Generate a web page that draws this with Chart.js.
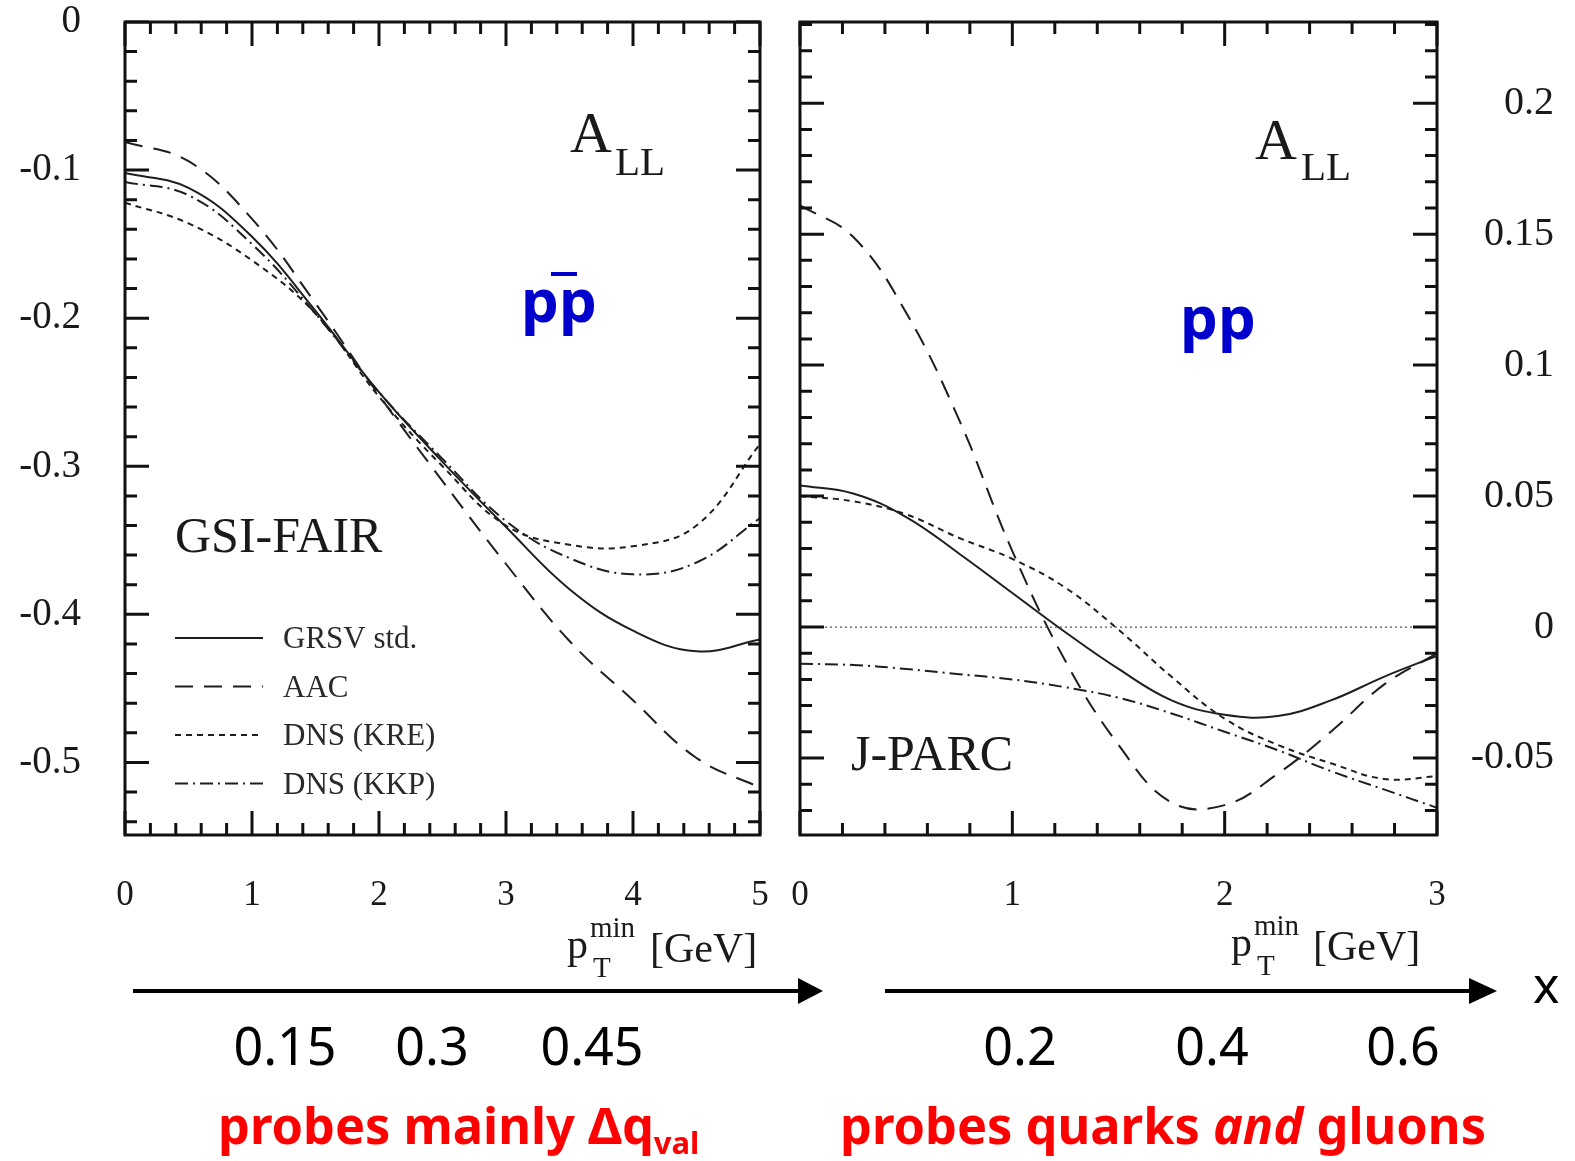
<!DOCTYPE html>
<html>
<head>
<meta charset="utf-8">
<script src="https://cdn.jsdelivr.net/npm/chart.js@4.4.0/dist/chart.umd.min.js"></script>
<style>
  body { margin: 0; background: #fff; }
  #page { position: relative; width: 1575px; height: 1161px; overflow: hidden; background: #fff; }
  .box { position: absolute; }
  .t { position: absolute; white-space: nowrap; line-height: 1; }
  .serif { font-family: "Liberation Serif", "DejaVu Serif", serif; color: #1a1a1a; }
  .sans { font-family: "Noto Sans", "DejaVu Sans", sans-serif; }
  .blue { color: #0000cc; font-weight: 700; font-size: 60px; }
  .num { color: #000; font-size: 52px; transform: translateX(-50%); }
  .red { color: #ff0000; font-weight: 700; font-size: 50.5px; }
  .red sub { font-size: 31px; vertical-align: -10px; line-height: 0; }
</style>
</head>
<body>
<div id="page">
  <div class="box" style="left:0;top:0;width:785px;height:930px"><canvas id="chart1"></canvas></div>
  <div class="box" style="left:785px;top:0;width:790px;height:930px"><canvas id="chart2"></canvas></div>

  <!-- panel labels -->
  <span class="t serif" style="left:570px;top:104px;font-size:58px">A</span>
  <span class="t serif" style="left:615px;top:141px;font-size:41px">LL</span>
  <span class="t serif" style="left:1255px;top:111px;font-size:58px">A</span>
  <span class="t serif" style="left:1301px;top:146px;font-size:41px">LL</span>

  <span class="t sans blue" style="left:521px;top:269px">pp</span>
  <div class="box" style="left:551px;top:272px;width:26px;height:4px;background:#0000cc"></div>
  <span class="t sans blue" style="left:1180px;top:286px">pp</span>

  <span class="t serif" style="left:175px;top:510px;font-size:50px">GSI-FAIR</span>
  <span class="t serif" style="left:851px;top:728px;font-size:50px">J-PARC</span>

  <!-- axis titles -->
  <span class="t serif" style="left:567px;top:923px;font-size:42px">p</span>
  <span class="t serif" style="left:590px;top:913px;font-size:29px">min</span>
  <span class="t serif" style="left:593px;top:953px;font-size:29px">T</span>
  <span class="t serif" style="left:650px;top:927px;font-size:42px">[GeV]</span>

  <span class="t serif" style="left:1231px;top:921px;font-size:42px">p</span>
  <span class="t serif" style="left:1254px;top:911px;font-size:29px">min</span>
  <span class="t serif" style="left:1257px;top:951px;font-size:29px">T</span>
  <span class="t serif" style="left:1313px;top:925px;font-size:42px">[GeV]</span>

  <!-- x arrows -->
  <svg class="box" style="left:0;top:0" width="1575" height="1161">
    <line x1="133" y1="991" x2="802" y2="991" stroke="#000" stroke-width="4"/>
    <polygon points="798,978 823,991 798,1004" fill="#000"/>
    <line x1="885" y1="991" x2="1472" y2="991" stroke="#000" stroke-width="4"/>
    <polygon points="1469,978 1497,991 1469,1004" fill="#000"/>
  </svg>
  <span class="t sans" style="left:1533px;top:959px;font-size:50px;color:#000">x</span>

  <span class="t sans num" style="left:285px;top:1019px">0.15</span>
  <span class="t sans num" style="left:432px;top:1019px">0.3</span>
  <span class="t sans num" style="left:592px;top:1019px">0.45</span>
  <span class="t sans num" style="left:1020px;top:1019px">0.2</span>
  <span class="t sans num" style="left:1212px;top:1019px">0.4</span>
  <span class="t sans num" style="left:1403px;top:1019px">0.6</span>

  <span class="t sans red" style="left:218px;top:1100px">probes mainly &Delta;q<sub>val</sub></span>
  <span class="t sans red" style="left:840px;top:1100px">probes quarks <i>and</i> gluons</span>
</div>

<script>
// ---- left panel: GSI-FAIR, p pbar ----
const ptLeft = [0, 0.5, 1, 1.5, 2, 2.5, 3, 3.5, 4, 4.5, 5];
const grsvLeft = [-0.102, -0.112, -0.145, -0.195, -0.250, -0.297, -0.341, -0.383, -0.411, -0.425, -0.417];
const aacLeft  = [-0.081, -0.094, -0.133, -0.190, -0.252, -0.310, -0.366, -0.418, -0.458, -0.497, -0.517];
const kreLeft  = [-0.122, -0.136, -0.161, -0.197, -0.253, -0.300, -0.340, -0.353, -0.354, -0.340, -0.285];
const kkpLeft  = [-0.108, -0.117, -0.150, -0.197, -0.250, -0.295, -0.337, -0.362, -0.373, -0.365, -0.335];
const xTicksLeft = [0, 1, 2, 3, 4, 5];
const yTicksLeft = [0, -0.1, -0.2, -0.3, -0.4, -0.5];

// ---- right panel: J-PARC, p p ----
const ptRight = [0, 0.25, 0.5, 0.75, 1, 1.25, 1.5, 1.75, 2, 2.25, 2.5, 2.75, 3];
const grsvRight = [0.054, 0.051, 0.042, 0.028, 0.013, -0.002, -0.016, -0.028, -0.0335, -0.034, -0.028, -0.019, -0.011];
const aacRight  = [0.161, 0.149, 0.120, 0.079, 0.029, -0.013, -0.045, -0.067, -0.068, -0.056, -0.040, -0.022, -0.010];
const kreRight  = [0.050, 0.048, 0.043, 0.034, 0.026, 0.015, -0.001, -0.019, -0.035, -0.045, -0.052, -0.058, -0.057];
const kkpRight  = [-0.014, -0.0145, -0.016, -0.018, -0.020, -0.023, -0.027, -0.033, -0.040, -0.047, -0.055, -0.062, -0.069];
const zeroX = [0, 3];
const zeroY = [0, 0];
const xTicksRight = [0, 1, 2, 3];
const yTicksRight = [-0.05, 0, 0.05, 0.1, 0.15, 0.2];

const seriesNames = ["GRSV std.", "AAC", "DNS (KRE)", "DNS (KKP)"];
const dashes = [[], [18, 11], [6, 5], [13, 5, 2, 5]];
const ink = "#1e1e1e";

const pts = (xs, ys) => xs.map((x, i) => ({ x: x, y: ys[i] }));

function curveSets(xs, rows) {
   return rows.map((ys, i) => ({
      label: seriesNames[i],
      data: pts(xs, ys),
      borderColor: ink,
      borderWidth: 2,
      borderDash: dashes[i],
      pointRadius: 0,
      fill: false,
      tension: 0.4,
   }));
}

// frame with inward major/minor ticks on all four sides
const frameTicks = {
   id: "frameTicks",
   afterDatasetsDraw(chart, args, o) {
      const { ctx, chartArea: a } = chart;
      const xs = chart.scales.x, ys = chart.scales.y;
      const isMajor = (k, n) => ((k % n) + n) % n === 0;
      ctx.save();
      ctx.strokeStyle = "#111";
      ctx.lineWidth = 3;
      ctx.beginPath();
      for (let k = Math.ceil(xs.min / o.xMinor - 1e-6); k * o.xMinor <= xs.max + 1e-6; k++) {
         const p = xs.getPixelForValue(k * o.xMinor);
         const len = isMajor(k, o.xEvery) ? o.major : o.minor;
         ctx.moveTo(p, a.bottom); ctx.lineTo(p, a.bottom - len);
         ctx.moveTo(p, a.top); ctx.lineTo(p, a.top + len);
      }
      for (let k = Math.ceil(ys.min / o.yMinor - 1e-6); k * o.yMinor <= ys.max + 1e-6; k++) {
         const p = ys.getPixelForValue(k * o.yMinor);
         const len = isMajor(k, o.yEvery) ? o.major : o.minor;
         ctx.moveTo(a.left, p); ctx.lineTo(a.left + len, p);
         ctx.moveTo(a.right, p); ctx.lineTo(a.right - len, p);
      }
      ctx.stroke();
      ctx.strokeRect(a.left, a.top, a.right - a.left, a.bottom - a.top);
      ctx.restore();
   }
};

// line-style key drawn inside the plot
const lineKey = {
   id: "lineKey",
   afterDatasetsDraw(chart, args, o) {
      if (!o.show) return;
      const { ctx } = chart;
      ctx.save();
      ctx.font = o.font;
      ctx.textBaseline = "middle";
      chart.data.datasets.forEach((ds, i) => {
         if (!seriesNames.includes(ds.label)) return;
         const y = o.top + i * o.step;
         ctx.strokeStyle = ink;
         ctx.lineWidth = 2;
         ctx.setLineDash(ds.borderDash);
         ctx.beginPath();
         ctx.moveTo(o.left, y);
         ctx.lineTo(o.left + o.len, y);
         ctx.stroke();
         ctx.setLineDash([]);
         ctx.fillStyle = "#2a2a2a";
         ctx.fillText(ds.label, o.left + o.len + 20, y + 2);
      });
      ctx.restore();
   }
};

// keep the plot box where it is, whatever the label sizes
function fixedWidth(w) {
   return (scale) => { scale.width = w; scale.paddingTop = 0; scale.paddingBottom = 0; };
}
function fixedHeight(h) {
   return (scale) => { scale.height = h; scale.paddingLeft = 0; scale.paddingRight = 0; };
}
const labelText = (v) => String(+Number(v).toFixed(2));

function drawPanel(canva, sets, cfg) {
   const config = {
      type: "line",
      data: { datasets: sets },
      options: {
         responsive: true,
         maintainAspectRatio: false,
         animation: false,
         events: [],
         layout: { padding: cfg.padding },
         plugins: {
            legend: { display: false },
            tooltip: { enabled: false },
            frameTicks: cfg.frame,
            lineKey: cfg.key,
         },
         scales: {
            x: {
               type: "linear",
               min: cfg.xMin,
               max: cfg.xMax,
               grid: { display: false, drawTicks: false },
               border: { display: false },
               afterBuildTicks: (s) => { s.ticks = cfg.xTicks.map((v) => ({ value: v })); },
               afterFit: fixedHeight(95),
               ticks: {
                  padding: 40,
                  maxRotation: 0,
                  autoSkip: false,
                  color: "#1a1a1a",
                  font: { family: "Liberation Serif", size: 35 },
                  callback: labelText,
               },
            },
            y: {
               type: "linear",
               position: cfg.yPos,
               min: cfg.yMin,
               max: cfg.yMax,
               grid: { display: false, drawTicks: false },
               border: { display: false },
               afterBuildTicks: (s) => { s.ticks = cfg.yTicks.map((v) => ({ value: v })); },
               afterFit: fixedWidth(cfg.yWidth),
               ticks: {
                  padding: cfg.yPad,
                  crossAlign: cfg.yAlign,
                  autoSkip: false,
                  color: "#1a1a1a",
                  font: { family: "Liberation Serif", size: cfg.yFont },
                  callback: labelText,
               },
            },
         },
      },
      plugins: [frameTicks, lineKey],
   };
   return new Chart(canva, config);
}

drawPanel(document.querySelector("#chart1"),
   curveSets(ptLeft, [grsvLeft, aacLeft, kreLeft, kkpLeft]), {
   padding: { left: 0, top: 22, right: 25, bottom: 0 },
   xMin: 0, xMax: 5, xTicks: xTicksLeft,
   yMin: -0.549, yMax: 0, yTicks: yTicksLeft,
   yPos: "left", yWidth: 125, yPad: 44, yAlign: "near", yFont: 39,
   frame: { xMinor: 0.2, xEvery: 5, yMinor: 0.02, yEvery: 5, major: 24, minor: 12 },
   key: { show: true, left: 175, top: 638, step: 48.5, len: 88, font: "31px 'Liberation Serif'" },
});

const zeroSet = {
   label: "zero",
   data: pts(zeroX, zeroY),
   borderColor: "#555",
   borderWidth: 1.2,
   borderDash: [2, 3],
   pointRadius: 0,
};

drawPanel(document.querySelector("#chart2"),
   [zeroSet].concat(curveSets(ptRight, [grsvRight, aacRight, kreRight, kkpRight])), {
   padding: { left: 15, top: 22, right: 21, bottom: 0 },
   xMin: 0, xMax: 3, xTicks: xTicksRight,
   yMin: -0.0794, yMax: 0.231, yTicks: yTicksRight,
   yPos: "right", yWidth: 117, yPad: 10, yAlign: "far", yFont: 40,
   frame: { xMinor: 0.2, xEvery: 5, yMinor: 0.01, yEvery: 5, major: 24, minor: 12 },
   key: { show: false },
});
</script>
</body>
</html>
